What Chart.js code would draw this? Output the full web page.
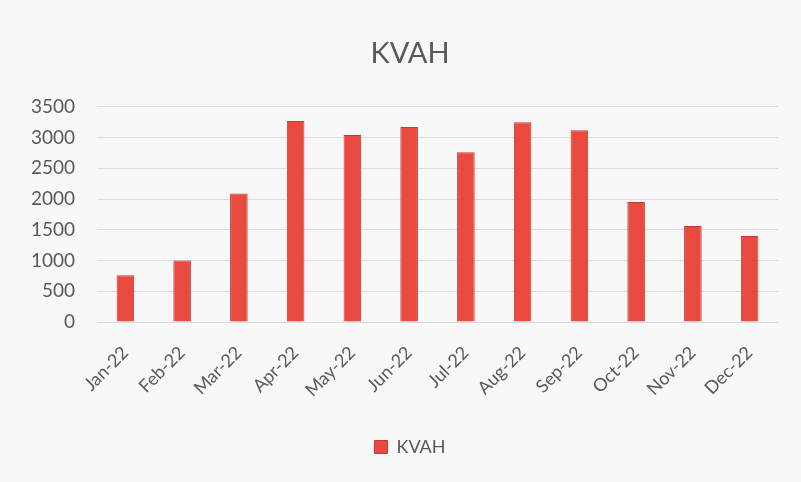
<!DOCTYPE html>
<html>
<head>
<meta charset="utf-8">
<script src="https://cdn.jsdelivr.net/npm/chart.js@4/dist/chart.umd.min.js"></script>
<style>
  html, body { margin: 0; padding: 0; background: #f8f8f8; }
  #wrap { width: 801px; height: 482px; }
</style>
</head>
<body>
<div id="wrap"><canvas id="kvah-chart" width="801" height="482"></canvas></div>
<script>
    "use strict";

    const months = ['Jan-22', 'Feb-22', 'Mar-22', 'Apr-22', 'May-22', 'Jun-22',
                    'Jul-22', 'Aug-22', 'Sep-22', 'Oct-22', 'Nov-22', 'Dec-22'];
    const kvah = [760, 1000, 2090, 3270, 3040, 3170, 2760, 3250, 3120, 1950, 1560, 1400];
    const yTicks = [0, 500, 1000, 1500, 2000, 2500, 3000, 3500];

    const textColor = '#595959';
    const font = "'Lato', 'Open Sans', sans-serif";

    let kvahChart = document.getElementById('kvah-chart');
    if (kvahChart) {
        window.Chart && new Chart(kvahChart, {
            type: 'bar',
            data: {
                labels: months,
                datasets: [{
                    label: 'KVAH',
                    data: kvah,
                    backgroundColor: '#e84a3f',
                    borderColor: '#c8382f',
                    borderWidth: 1,
                    barPercentage: 0.62,
                    categoryPercentage: 0.5
                }]
            },
            options: {
                responsive: false,
                animation: false,
                // negative right padding + empty right axis shifts title/legend centre right
                layout: {
                    padding: { left: 0, right: -19, top: 0, bottom: 16 }
                },
                plugins: {
                    title: {
                        display: true,
                        text: 'KVAH',
                        color: textColor,
                        font: { family: font, size: 29, weight: 'normal' },
                        padding: { top: 36, bottom: 36 }
                    },
                    legend: {
                        position: 'bottom',
                        labels: {
                            color: textColor,
                            font: { family: font, size: 18 },
                            boxWidth: 13,
                            boxHeight: 13,
                            padding: 10
                        }
                    },
                    tooltip: { enabled: false }
                },
                scales: {
                    x: {
                        grid: { display: false },
                        border: { color: '#d9d9d9' },
                        ticks: {
                            color: textColor,
                            font: { family: font, size: 18 },
                            minRotation: 45,
                            maxRotation: 45,
                            padding: 12
                        },
                        afterFit: function(scale) { scale.height = 106; }
                    },
                    y: {
                        min: 0,
                        max: 3500,
                        afterBuildTicks: function(scale) {
                            scale.ticks = yTicks.map(v => ({ value: v }));
                        },
                        grid: { color: '#dcdcdc', drawTicks: false },
                        border: { display: false },
                        ticks: {
                            color: textColor,
                            font: { family: font, size: 19 },
                            padding: 22,
                            callback: function(value) { return String(value); }
                        },
                        afterFit: function(scale) { scale.width = 97; }
                    },
                    spacer: {
                        type: 'linear',
                        position: 'right',
                        grid: { display: false },
                        border: { display: false },
                        ticks: { display: false },
                        afterFit: function(scale) { scale.width = 42; }
                    }
                }
            }
        });
    }
</script>
</body>
</html>
